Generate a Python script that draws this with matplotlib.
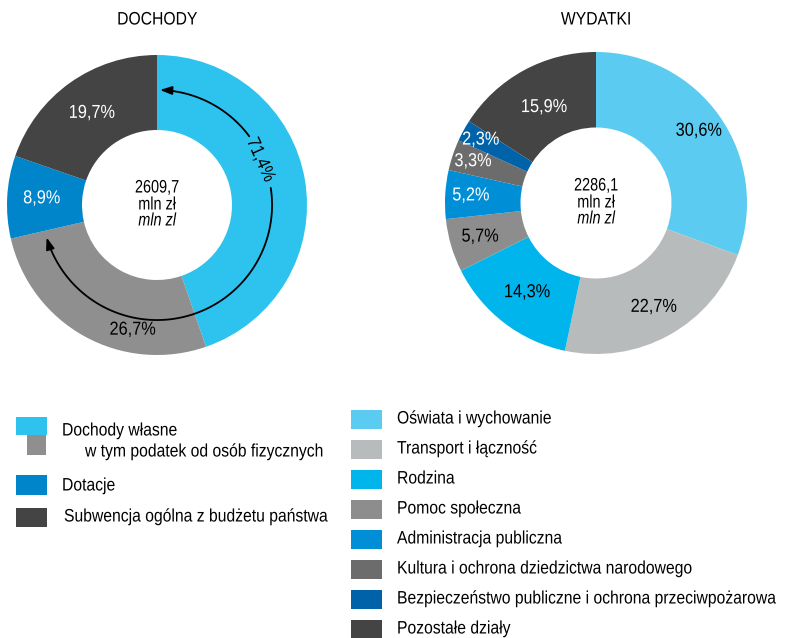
import numpy as np
import matplotlib
matplotlib.use("Agg")
import matplotlib.pyplot as plt
from matplotlib.patches import FancyArrowPatch, Rectangle
from matplotlib.path import Path
from matplotlib.patheffects import AbstractPathEffect
from matplotlib.transforms import Affine2D, Bbox

plt.rcParams['font.family'] = ['Liberation Sans', 'DejaVu Sans']

# --- data ---
inc_labels = ["Dochody własne", "w tym podatek od osób fizycznych", "Dotacje",
              "Subwencja ogólna z budżetu państwa"]
inc_values = [44.7, 26.7, 8.9, 19.7]
inc_pct = ["", "26,7%", "8,9%", "19,7%"]
inc_colors = ["#2DC3EE", "#8F8F8F", "#0085CA", "#444444"]
inc_total = "2609,7"
own_share = "71,4%"

exp_labels = ["Oświata i wychowanie", "Transport i łączność", "Rodzina", "Pomoc społeczna",
              "Administracja publiczna", "Kultura i ochrona dziedzictwa narodowego",
              "Bezpieczeństwo publiczne i ochrona przeciwpożarowa", "Pozostałe działy"]
exp_values = [30.6, 22.7, 14.3, 5.7, 5.2, 3.3, 2.3, 15.9]
exp_pct = ["30,6%", "22,7%", "14,3%", "5,7%", "5,2%", "3,3%", "2,3%", "15,9%"]
exp_colors = ["#5BCBF1", "#B8BBBC", "#00B5EC", "#8D8D8D", "#008ED6", "#6C6C6C", "#0063A9", "#444444"]
exp_total = "2286,1"

W, H = 786, 638
fig = plt.figure(figsize=(W / 100, H / 100), dpi=100)


class Narrow(AbstractPathEffect):
    """squeeze glyphs horizontally to imitate a narrow typeface"""
    def __init__(self, sx=0.87, centre=False):
        super().__init__()
        self.sx = sx
        self.centre = centre

    def draw_path(self, renderer, gc, tpath, affine, rgbFace=None):
        t = Affine2D().scale(self.sx, 1)
        if self.centre:
            ext = tpath.get_extents()
            t = t.translate((1 - self.sx) * (ext.x0 + ext.x1) / 2, 0)
        renderer.draw_path(gc, tpath, t + affine, rgbFace)


def ntext(obj, x, y, s, sx=0.87, **kw):
    centre = kw.get('ha', 'left') == 'center'
    txt = obj.text(x, y, s, path_effects=[Narrow(sx, centre)], **kw)
    if not kw.get('rotation'):
        orig = txt.get_window_extent

        # report the squeezed extent, not the full-width one
        def extent(renderer=None, dpi=None):
            bb = orig(renderer, dpi)
            w = bb.width * sx
            x0 = bb.x0 + (bb.width - w) / 2 if centre else bb.x0
            return Bbox.from_bounds(x0, bb.y0, w, bb.height)
        txt.get_window_extent = extent
    return txt


def pie_axes(cx, cy, r):
    ax = fig.add_axes([(cx - r) / W, (H - cy - r) / H, 2 * r / W, 2 * r / H])
    ax.set_xlim(-1, 1)
    ax.set_ylim(-1, 1)
    ax.set_aspect('equal')
    ax.axis('off')
    return ax


def donut(ax, r_px, values, colors, pcts, radii, txtcolors, total, angle_fix=None):
    wedges, _ = ax.pie(values, colors=colors, startangle=90, counterclock=False, radius=1,
                       wedgeprops=dict(width=0.5, linewidth=0))
    ax.set_xlim(-1, 1)
    ax.set_ylim(-1, 1)
    for i, w in enumerate(wedges):
        if not pcts[i]:
            continue
        a = np.deg2rad((w.theta1 + w.theta2) / 2)
        if angle_fix and i in angle_fix:
            a = np.deg2rad(angle_fix[i])
        ntext(ax, radii[i] * np.cos(a), radii[i] * np.sin(a), pcts[i], ha='center', va='center',
              fontsize=13.5, color=txtcolors[i])
    ntext(ax, 0, 17 / r_px, total, sx=0.8, ha='center', va='center', fontsize=13)
    ntext(ax, 0, 0, "mln zł", sx=0.8, ha='center', va='center', fontsize=13)
    ntext(ax, 0, -16 / r_px, "mln zl", sx=0.8, ha='center', va='center', fontsize=13,
          style='italic')
    return wedges


# left donut
axl = pie_axes(157, 205, 150)
donut(axl, 150, inc_values, inc_colors, inc_pct, [0, 0.85, 0.77, 0.75],
      ['k', 'k', 'white', 'white'], inc_total, angle_fix={1: -101})
ntext(fig, 157 / W, 1 - 20 / H, "DOCHODY", ha='center', va='center', fontsize=13)

# arc arrows showing own revenue share
r_arc = 0.767
t1 = np.deg2rad(np.linspace(36.7, 88.5, 40))
t2 = np.deg2rad(np.linspace(8.6, -163.6, 120))
for t in (t1, t2):
    pts = np.column_stack([r_arc * np.cos(t), r_arc * np.sin(t)])
    arr = FancyArrowPatch(path=Path(pts), arrowstyle='-|>,head_length=7,head_width=2.5',
                          color='black', lw=1.3, mutation_scale=1)
    axl.add_patch(arr)
ta = np.deg2rad(23.6)
ntext(axl, 0.75 * np.cos(ta), 0.75 * np.sin(ta), own_share, rotation=-66, ha='center',
      va='center', fontsize=13.5, rotation_mode='anchor')

# right donut
axr = pie_axes(596, 203, 151)
donut(axr, 151, exp_values, exp_colors, exp_pct, [0.83, 0.79, 0.75, 0.8, 0.83, 0.86, 0.87, 0.72],
      ['k', 'k', 'k', 'k', 'white', 'white', 'white', 'white'], exp_total)
ntext(fig, 596 / W, 1 - 20 / H, "WYDATKI", ha='center', va='center', fontsize=13)


# legends drawn in pixel coordinates
def rect(x0, y0, x1, y1, c):
    fig.patches.append(Rectangle((x0 / W, 1 - y1 / H), (x1 - x0) / W, (y1 - y0) / H,
                                 transform=fig.transFigure, color=c, lw=0))


def label(x, y, s):
    ntext(fig, x / W, 1 - y / H, s, ha='left', va='center', fontsize=13)


rect(16, 417, 47, 435, inc_colors[0])
rect(27, 435, 46, 455, inc_colors[1])
label(62, 431, inc_labels[0])
label(85, 452, inc_labels[1])
rect(16, 475, 47, 495, inc_colors[2])
label(62, 486, inc_labels[2])
rect(16, 508, 47, 527, inc_colors[3])
label(64, 517, inc_labels[3])

for i, (name, c) in enumerate(zip(exp_labels, exp_colors)):
    y = 419 + 30 * i
    rect(351, y - 9.5, 382, y + 9.5, c)
    label(397, y, name)

fig.savefig("out.png", dpi=100)
